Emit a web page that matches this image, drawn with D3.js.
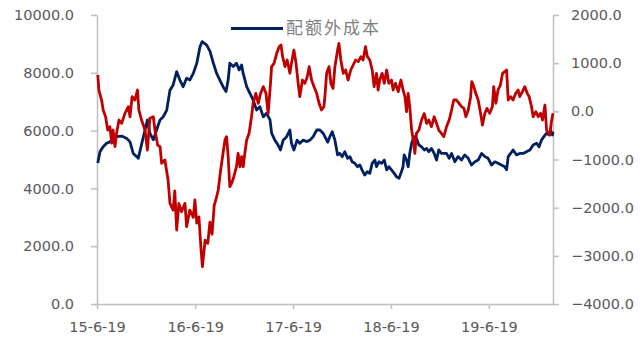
<!DOCTYPE html>
<html>
<head>
<meta charset="utf-8">
<script src="https://cdn.jsdelivr.net/npm/d3@7"></script>
<style>
  html, body { margin: 0; padding: 0; background: #fff; }
  svg { display: block; }
</style>
</head>
<body>
<svg id="chart" width="639" height="338"></svg>
<script>
// Quota-external cost (left axis) and the red spread series (right axis)
const seriesName = "配额外成本";

const navyDates = [
  "2015-06-22","2015-06-30","2015-07-12","2015-07-25","2015-08-06","2015-08-19","2015-08-31","2015-09-19",
  "2015-10-08","2015-10-20","2015-11-01","2015-11-14","2015-11-20","2015-12-03","2015-12-15","2015-12-24",
  "2016-01-02","2016-01-15","2016-01-27","2016-02-09","2016-02-21","2016-03-05","2016-03-17","2016-03-29",
  "2016-04-11","2016-04-23","2016-05-05","2016-05-18","2016-05-30","2016-06-12","2016-06-25","2016-07-07",
  "2016-07-15","2016-08-01","2016-08-13","2016-08-26","2016-09-07","2016-09-19","2016-10-01","2016-10-12",
  "2016-10-20","2016-10-26","2016-11-08","2016-11-20","2016-11-30","2016-12-09","2016-12-15","2016-12-28",
  "2017-01-09","2017-01-21","2017-02-03","2017-02-15","2017-02-28","2017-03-12","2017-03-25","2017-03-31",
  "2017-04-12","2017-04-24","2017-05-03","2017-05-13","2017-05-26","2017-06-07","2017-06-13","2017-06-22",
  "2017-07-04","2017-07-14","2017-07-27","2017-08-08","2017-08-21","2017-09-02","2017-09-15","2017-09-27",
  "2017-10-09","2017-10-26","2017-11-03","2017-11-12","2017-11-22","2017-12-02","2017-12-10","2017-12-19",
  "2017-12-29","2018-01-08","2018-01-17","2018-01-25","2018-02-04","2018-02-14","2018-02-23","2018-03-03",
  "2018-03-13","2018-03-23","2018-04-01","2018-04-10","2018-04-20","2018-04-26","2018-05-05","2018-05-15",
  "2018-05-25","2018-06-03","2018-06-11","2018-06-21","2018-07-01","2018-07-10","2018-07-19","2018-07-26",
  "2018-08-03","2018-08-07","2018-08-16","2018-08-22","2018-08-28","2018-09-04","2018-09-13","2018-09-22",
  "2018-10-01","2018-10-11","2018-10-21","2018-10-30","2018-11-07","2018-11-17","2018-11-27","2018-12-06",
  "2018-12-14","2018-12-24","2019-01-12","2019-01-22","2019-01-31","2019-02-12","2019-02-24","2019-03-09",
  "2019-03-21","2019-04-03","2019-04-15","2019-04-28","2019-05-10","2019-05-23","2019-06-04","2019-06-16",
  "2019-06-29","2019-07-11","2019-07-23","2019-08-05","2019-08-17","2019-08-24","2019-08-30","2019-09-08",
  "2019-09-17","2019-09-30","2019-10-12","2019-10-25","2019-11-06","2019-11-19","2019-12-01","2019-12-14",
  "2019-12-23","2020-01-01","2020-01-10","2020-01-20","2020-01-29","2020-02-04","2020-02-11","2020-02-13"
];
const navyValues = [
  4880,5270,5440,5560,5610,5730,5790,5810,
  5730,5610,5210,5100,5040,5560,6020,6370,
  5910,5680,6020,6370,6480,6710,7400,7580,
  8040,7750,7520,7810,7750,7980,8330,8900,
  9080,8960,8750,8330,7980,7750,7520,7350,
  7750,8330,8220,8330,8100,8270,7980,7520,
  7290,7060,6710,6830,6480,6600,6370,5910,
  5670,5500,5330,5670,5790,6020,5560,5330,
  5670,5560,5670,5620,5670,5790,6020,6020,
  5910,5600,5790,5960,5670,5160,5210,5100,
  5270,5040,5100,4920,4870,4750,4810,4640,
  4460,4580,4520,4870,4980,4750,4920,4870,
  4980,4640,4750,4640,4520,4400,4350,4520,
  4750,5160,4980,4750,5210,5560,5790,5730,
  5500,5440,5330,5380,5270,5380,5210,4980,
  5330,5210,5210,5040,5210,4920,5100,4980,
  5160,5040,4810,4920,4980,5210,5100,5040,
  4810,4920,4870,4810,4750,4640,5100,5210,
  5330,5160,5210,5210,5270,5330,5500,5560,
  5440,5670,5790,5910,5850,6020,5850,5960
];

const redDates = [
  "2015-06-22","2015-06-26","2015-07-06","2015-07-12","2015-07-21","2015-07-29","2015-08-06","2015-08-13",
  "2015-08-18","2015-08-25","2015-08-31","2015-09-09","2015-09-19","2015-10-01","2015-10-14","2015-10-20",
  "2015-10-28","2015-11-07","2015-11-17","2015-11-22","2015-12-02","2015-12-15","2015-12-24","2016-01-02",
  "2016-01-15","2016-01-21","2016-01-31","2016-02-09","2016-02-15","2016-02-27","2016-03-10","2016-03-17",
  "2016-03-29","2016-04-04","2016-04-11","2016-04-19","2016-04-29","2016-05-12","2016-05-18","2016-05-30",
  "2016-06-12","2016-06-18","2016-06-25","2016-07-03","2016-07-11","2016-07-16","2016-07-26","2016-08-05",
  "2016-08-13","2016-08-21","2016-08-29","2016-09-04","2016-09-13","2016-09-22","2016-09-29","2016-10-08",
  "2016-10-14","2016-10-20","2016-10-26","2016-11-02","2016-11-10","2016-11-20","2016-11-26","2016-12-03",
  "2016-12-09","2016-12-15","2016-12-21","2016-12-28","2017-01-06","2017-01-15","2017-01-21","2017-01-31",
  "2017-02-09","2017-02-18","2017-02-28","2017-03-10","2017-03-18","2017-03-25","2017-03-31","2017-04-09",
  "2017-04-19","2017-04-28","2017-05-05","2017-05-11","2017-05-20","2017-05-28","2017-06-07","2017-06-13",
  "2017-06-22","2017-06-30","2017-07-08","2017-07-14","2017-07-24","2017-08-02","2017-08-11","2017-08-18",
  "2017-08-27","2017-09-05","2017-09-15","2017-09-24","2017-10-03","2017-10-12","2017-10-16","2017-10-22",
  "2017-10-31","2017-11-07","2017-11-15","2017-11-22","2017-12-02","2017-12-07","2017-12-14","2017-12-23",
  "2018-01-01","2018-01-10","2018-01-20","2018-01-29","2018-02-07","2018-02-17","2018-02-27","2018-03-07",
  "2018-03-16","2018-03-23","2018-04-01","2018-04-10","2018-04-17","2018-04-26","2018-05-02","2018-05-08",
  "2018-05-17","2018-05-25","2018-06-03","2018-06-11","2018-06-21","2018-06-27","2018-07-06","2018-07-16",
  "2018-07-26","2018-08-03","2018-08-10","2018-08-16","2018-08-22","2018-08-28","2018-09-04","2018-09-10",
  "2018-09-16","2018-09-22","2018-10-01","2018-10-11","2018-10-21","2018-10-30","2018-11-07","2018-11-17",
  "2018-11-27","2018-12-06","2018-12-14","2018-12-24","2019-01-02","2019-01-12","2019-01-22","2019-01-31",
  "2019-02-08","2019-02-18","2019-02-28","2019-03-09","2019-03-18","2019-03-25","2019-04-03","2019-04-12",
  "2019-04-16","2019-04-24","2019-05-01","2019-05-10","2019-05-19","2019-05-26","2019-06-04","2019-06-12",
  "2019-06-22","2019-07-02","2019-07-07","2019-07-15","2019-07-23","2019-08-01","2019-08-09","2019-08-17",
  "2019-08-24","2019-08-30","2019-09-08","2019-09-17","2019-09-27","2019-10-06","2019-10-12","2019-10-22",
  "2019-10-31","2019-11-09","2019-11-16","2019-11-25","2019-12-01","2019-12-11","2019-12-20","2019-12-29",
  "2020-01-05","2020-01-14","2020-01-20","2020-01-26","2020-02-01","2020-02-07","2020-02-13"
];
const redValues = [
  754,443,235,28,-112,-388,-320,-658,
  -388,-734,-456,-180,-250,-41,96,-112,
  303,235,443,28,-180,-388,-803,-145,
  -112,-388,-700,-734,-1080,-1010,-1426,-1910,
  -2050,-1650,-2464,-1910,-2084,-1910,-2395,-2050,
  -2200,-1840,-2320,-2190,-2880,-3225,-2672,-2740,
  -2300,-2550,-1950,-1840,-1633,-1218,-942,-595,
  -527,-942,-1565,-1495,-1357,-1150,-872,-1150,
  -942,-1150,-872,-595,-457,-112,166,374,
  166,374,512,374,-41,443,927,996,
  1204,1342,1377,1135,927,1066,789,996,
  1273,996,581,304,650,581,720,927,
  650,512,374,166,28,96,339,789,
  927,581,477,927,1273,1411,1066,789,
  858,650,858,962,1066,1031,1135,1066,
  1342,1135,1066,858,512,789,443,650,
  789,581,858,581,650,443,581,408,
  650,443,304,-7,374,96,-388,-595,
  -872,-457,-388,-180,-45,-250,-180,-318,
  -112,-250,-388,-457,-527,-320,-180,28,
  235,235,166,96,62,-112,28,304,
  616,512,374,235,-41,-284,-41,62,
  -41,96,512,166,443,546,789,823,
  858,235,304,235,374,443,304,408,
  512,374,304,96,-112,-7,-112,-41,
  -180,131,-388,-457,-492,-215,-41
];

const leftTicks = [0, 2000, 4000, 6000, 8000, 10000];
const rightTicks = [-4000, -3000, -2000, -1000, 0, 1000, 2000];
const xTickDates = ["2015-06-19","2016-06-19","2017-06-19","2018-06-19","2019-06-19"];
const xDomain = ["2015-06-19","2020-02-13"];

const parse = d3.timeParse("%Y-%m-%d");
const navy = navyDates.map((d, i) => ({ date: parse(d), value: navyValues[i] }));
const red = redDates.map((d, i) => ({ date: parse(d), value: redValues[i] }));

const svg = d3.select("#chart");
const plot = { left: 97, right: 553, top: 15, bottom: 304 };

const x = d3.scaleTime().domain(xDomain.map(parse)).range([plot.left, plot.right]);
const yL = d3.scaleLinear().domain([0, 10000]).range([plot.bottom, plot.top]);
const yR = d3.scaleLinear().domain([-4000, 2000]).range([plot.bottom, plot.top]);

const axisColor = "#bfbfbf";
const labelColor = "#595959";
const font = "'DejaVu Sans', sans-serif";

function styleAxis(g) {
  g.select(".domain").attr("stroke", axisColor).attr("stroke-width", 1.5);
  g.selectAll(".tick line").attr("stroke", axisColor).attr("stroke-width", 1.5);
  g.selectAll(".tick text").attr("fill", labelColor)
    .style("font-family", font).style("font-size", "14.5px");
}

svg.append("g")
  .attr("transform", `translate(${plot.left},0)`)
  .call(d3.axisLeft(yL).tickValues(leftTicks).tickFormat(d3.format(".1f"))
        .tickSize(6).tickSizeOuter(0).tickPadding(17))
  .call(styleAxis);

svg.append("g")
  .attr("transform", `translate(${plot.right},0)`)
  .call(d3.axisRight(yR).tickValues(rightTicks).tickFormat(d3.format(".1f"))
        .tickSize(6).tickSizeOuter(0).tickPadding(12))
  .call(styleAxis);

svg.append("g")
  .attr("transform", `translate(0,${plot.bottom})`)
  .call(d3.axisBottom(x).tickValues(xTickDates.map(parse))
        .tickFormat(d3.timeFormat("%y-%-m-%-d"))
        .tickSize(5).tickSizeOuter(0).tickPadding(13))
  .call(styleAxis);

const navyLine = d3.line().x(d => x(d.date)).y(d => yL(d.value));
const redLine = d3.line().x(d => x(d.date)).y(d => yR(d.value));

svg.append("path").datum(navy)
  .attr("d", navyLine).attr("fill", "none")
  .attr("stroke", "#002060").attr("stroke-width", 2.8).attr("stroke-linejoin", "round");

svg.append("path").datum(red)
  .attr("d", redLine).attr("fill", "none")
  .attr("stroke", "#c00000").attr("stroke-width", 2.8).attr("stroke-linejoin", "round");

// Legend
const legend = svg.append("g").attr("transform", "translate(231,28.5)");
legend.append("line").attr("x1", 0).attr("x2", 52).attr("y1", 0).attr("y2", 0)
  .attr("stroke", "#002060").attr("stroke-width", 2.8);
legend.append("text").attr("x", 55).attr("y", 0).attr("dy", "0.35em")
  .attr("fill", "#7f7f7f")
  .style("font-family", "'Noto Sans CJK SC', sans-serif")
  .style("font-size", "17px").style("letter-spacing", "2px")
  .text(seriesName);
</script>
</body>
</html>
